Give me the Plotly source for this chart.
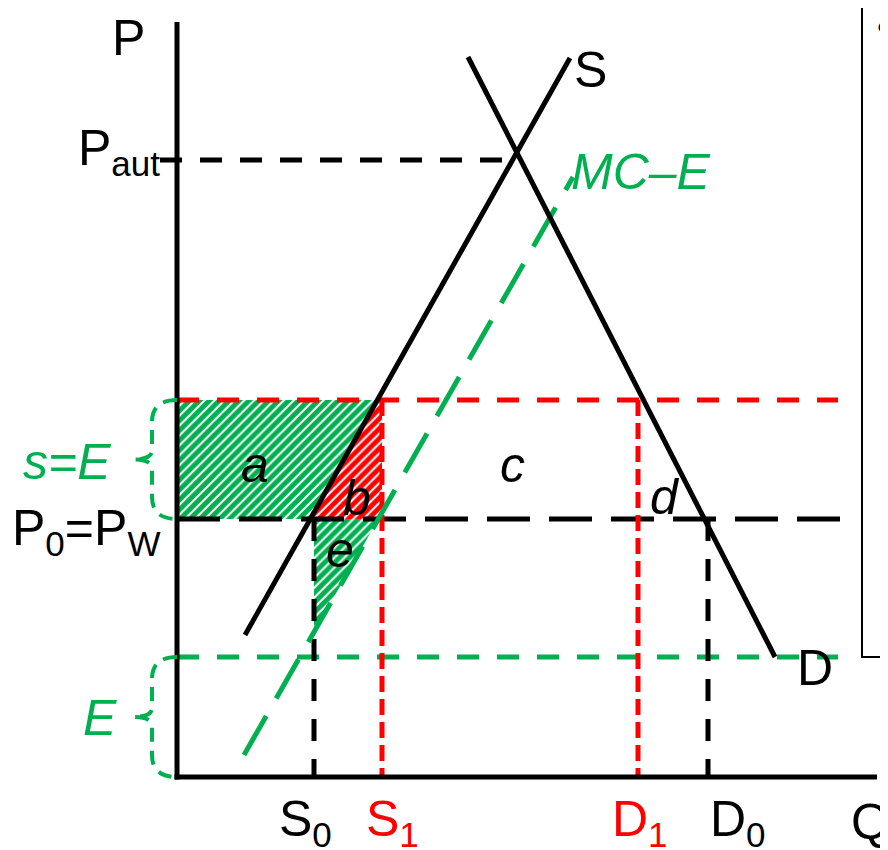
import plotly.graph_objects as go

# ---------------- data ----------------
# Price levels
P_W = 25.8        # P0 = Pw (world price)
P_S = 37.7        # Pw + s  (subsidised price)
E_LEVEL = 12.0    # externality E
P_AUT = 61.7      # autarky price

# Quantities on the Q axis
Q_S0 = 13.7
Q_S1 = 20.5
Q_D1 = 46.1
Q_D0 = 53.1

# Curves (end points)
supply_q = [6.8, 39.3]
supply_p = [14.2, 71.9]
demand_q = [29.1, 59.8]
demand_p = [72.0, 12.0]
mce_q = [6.7, 39.6]
mce_p = [2.2, 60.0]

# Axis extents
Q_MAX = 70.0
P_MAX = 75.5

# Q-axis labels and where their text sits
x_labels = ["S<sub>0</sub>", "S<sub>1</sub>", "D<sub>1</sub>", "D<sub>0</sub>"]
x_label_colors = ["#000000", "#FF0000", "#FF0000", "#000000"]
x_label_q = [12.8, 21.5, 46.3, 56.1]

GREEN = "#00B050"
RED = "#FF0000"
BLACK = "#000000"
FONT = "Liberation Sans, Arial, sans-serif"


def q_at(qs, ps, p):
    return qs[0] + (p - ps[0]) * (qs[1] - qs[0]) / (ps[1] - ps[0])


def p_at(qs, ps, q):
    return ps[0] + (q - qs[0]) * (ps[1] - ps[0]) / (qs[1] - qs[0])


# intersection of S and D (autarky quantity)
sa = (supply_p[1] - supply_p[0]) / (supply_q[1] - supply_q[0])
da = (demand_p[1] - demand_p[0]) / (demand_q[1] - demand_q[0])
q_aut = (demand_p[0] - da * demand_q[0] - supply_p[0] + sa * supply_q[0]) / (sa - da)

fig = go.Figure()

# ---------------- hatched areas ----------------
qs_top = q_at(supply_q, supply_p, P_S)
qs_w = q_at(supply_q, supply_p, P_W)
pat_g = dict(shape="/", fgcolor=GREEN, bgcolor="white", size=7, solidity=0.72, fgopacity=1)
pat_r = dict(shape="/", fgcolor=RED, bgcolor="white", size=7, solidity=0.72, fgopacity=1)
# area a (green)
fig.add_trace(go.Scatter(
    x=[0, 0, qs_top, qs_w, 0], y=[P_W, P_S, P_S, P_W, P_W],
    fill="toself", mode="none", fillcolor="white", fillpattern=pat_g,
    hoverinfo="skip"))
# area b (red)
fig.add_trace(go.Scatter(
    x=[qs_w, qs_top, Q_S1, Q_S1, qs_w], y=[P_W, P_S, P_S, P_W, P_W],
    fill="toself", mode="none", fillcolor="white", fillpattern=pat_r,
    hoverinfo="skip"))
# area e (green)
qm_w = q_at(mce_q, mce_p, P_W)
pm_s0 = p_at(mce_q, mce_p, Q_S0)
fig.add_trace(go.Scatter(
    x=[Q_S0, qm_w, Q_S0, Q_S0], y=[P_W, P_W, pm_s0, P_W],
    fill="toself", mode="none", fillcolor="white", fillpattern=pat_g,
    hoverinfo="skip"))


def seg(x, y, color, width=5, dash="solid"):
    fig.add_trace(go.Scatter(x=x, y=y, mode="lines",
                             line=dict(color=color, width=width, dash=dash),
                             hoverinfo="skip"))


# ---------------- dashed guide lines ----------------
seg([-1.7, q_aut], [P_AUT, P_AUT], BLACK, 5, "22px,18px")
seg([0, 66.1], [E_LEVEL, E_LEVEL], GREEN, 5, "22px,18px")
seg([0, 66.1], [P_S, P_S], RED, 5, "22px,18px")
seg([0, 67.3], [P_W, P_W], BLACK, 5, "43px,19px")
seg([Q_S0, Q_S0], [P_W, 0], BLACK, 5, "22px,18px")
seg([Q_D0, Q_D0], [P_W, 0], BLACK, 5, "22px,18px")
seg([Q_S1, Q_S1], [P_S, 0], RED, 5, "16px,7px")
seg([Q_D1, Q_D1], [P_S, 0], RED, 5, "16px,7px")

# MC - E
seg(mce_q, mce_p, GREEN, 5, "45px,20px")

# S and D
seg(supply_q, supply_p, BLACK, 5)
seg(demand_q, demand_p, BLACK, 5)

# axes
seg([0, 0], [P_MAX, -0.25], BLACK, 5)
seg([-0.25, Q_MAX], [0, 0], BLACK, 5)

# ---------------- braces ----------------
def brace(top, bot, x1=-2.5, tip=-4.4, r=2.2):
    mid = (top + bot) / 2
    return (f"M 0,{top} Q {x1},{top} {x1},{top - r} "
            f"L {x1},{mid + 0.9} Q {x1},{mid} {tip},{mid} "
            f"Q {x1},{mid} {x1},{mid - 0.9} "
            f"L {x1},{bot + r} Q {x1},{bot} 0,{bot}")


shapes = [
    dict(type="path", xref="x", yref="y", path=brace(P_S, P_W),
         line=dict(color=GREEN, width=4, dash="14px,9px")),
    dict(type="path", xref="x", yref="y", path=brace(E_LEVEL, 0),
         line=dict(color=GREEN, width=4, dash="14px,9px")),
    dict(type="rect", xref="x", yref="y", x0=68.5, x1=80, y0=E_LEVEL, y1=85,
         line=dict(color=BLACK, width=2)),
]

# ---------------- text ----------------
ann = []
FS = 50


def txt(x, y, t, color=BLACK, size=FS, xanchor="center", yanchor="middle"):
    ann.append(dict(x=x, y=y, xref="x", yref="y", text=t, showarrow=False,
                    xanchor=xanchor, yanchor=yanchor,
                    font=dict(family=FONT, size=size, color=color)))


txt(-4.9, 73.9, "P")
txt(-1.5, 62.6, "P<sub>aut</sub>", xanchor="right")
txt(41.3, 70.7, "S")
txt(46.4, 60.5, "<i>MC–E</i>", color=GREEN)
txt(7.8, 31.2, "<i>a</i>")
txt(18.0, 27.9, "<i>b</i>")
txt(33.5, 31.2, "<i>c</i>")
txt(48.8, 28.0, "<i>d</i>")
txt(16.3, 22.7, "<i>e</i>")
txt(-1.5, 24.6, "P<sub>0</sub>=P<sub>W</sub>", xanchor="right")
txt(-6.4, 31.5, "<i>s=E</i>", color=GREEN, xanchor="right")
txt(-5.8, 5.9, "<i>E</i>", color=GREEN, xanchor="right")
txt(63.8, 10.9, "D")
txt(69.3, -4.5, "Q")
for q, lab, col in zip(x_label_q, x_labels, x_label_colors):
    txt(q, -4.5, lab, color=col)
txt(70.7, 75.0, "•", size=40)

# The page body adds an 8px offset, so the figure is 8px smaller and its
# ranges are set so that the drawing sits where the reference has it.
fig.update_layout(
    width=880, height=842,
    margin=dict(l=0, r=0, t=0, b=0),
    paper_bgcolor="white", plot_bgcolor="white",
    showlegend=False,
    xaxis=dict(visible=False, range=[-16.9, 71.1], fixedrange=True),
    yaxis=dict(visible=False, range=[-7.3, 76.9], fixedrange=True),
    shapes=shapes, annotations=ann,
)

fig.write_html("out.html")
